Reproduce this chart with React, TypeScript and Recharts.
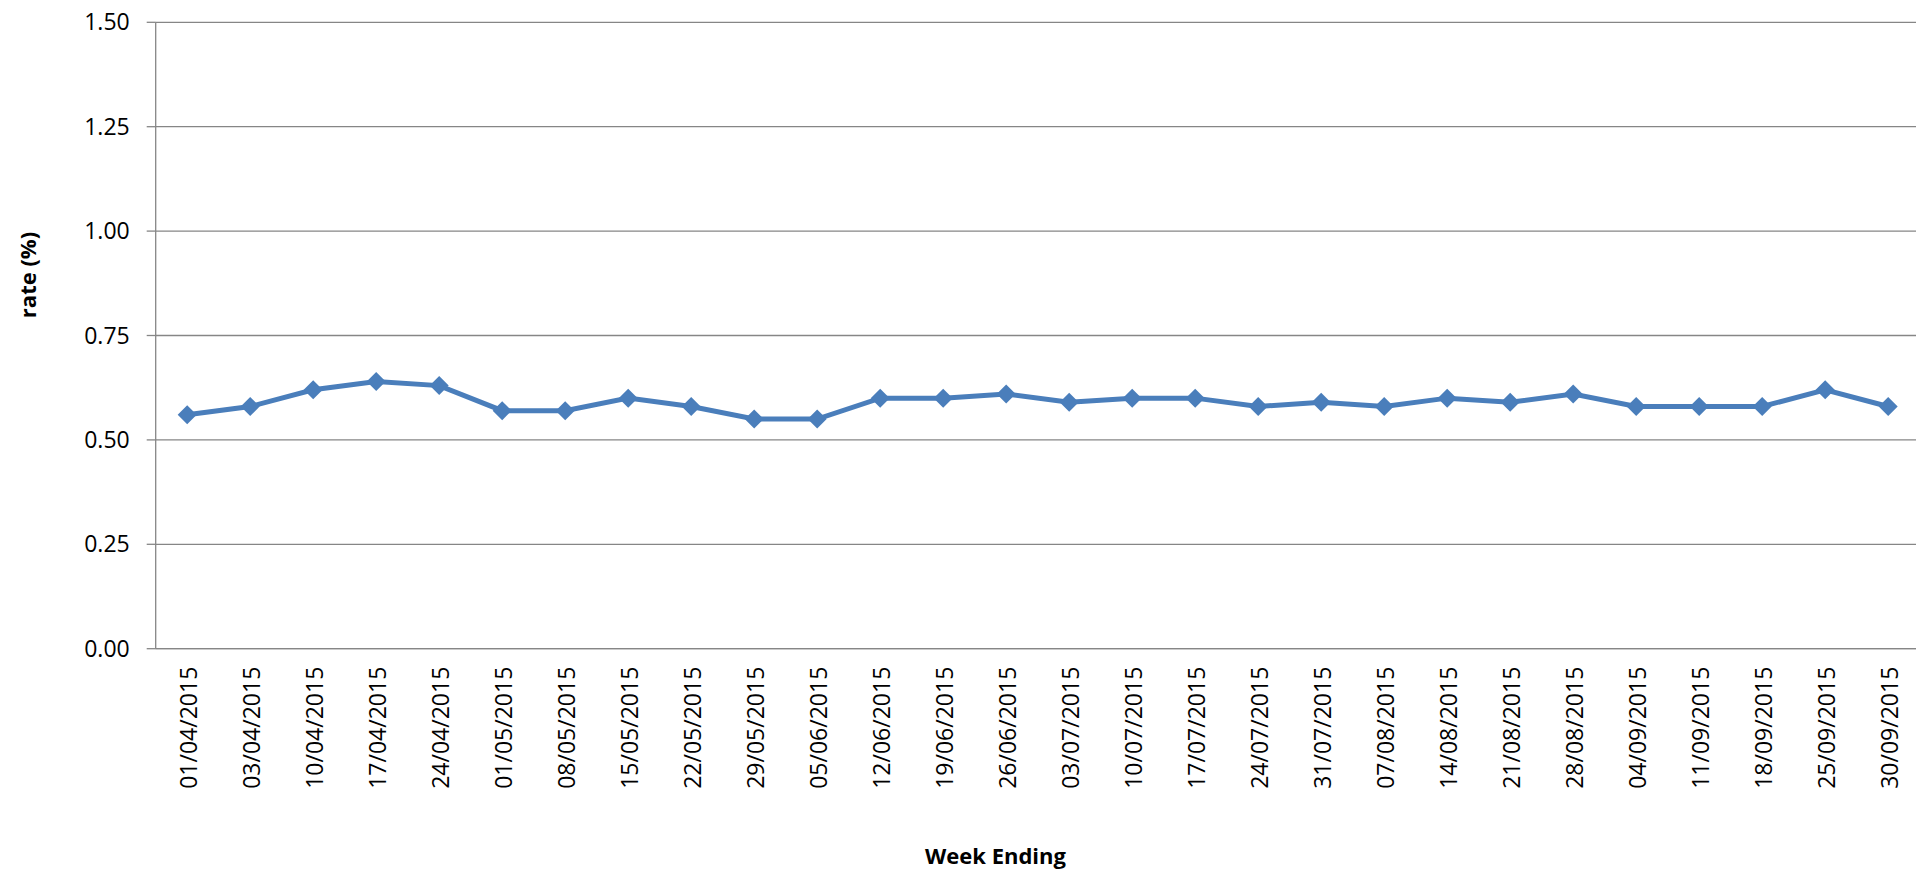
import { LineChart, Line, XAxis, YAxis, CartesianGrid } from 'recharts'

const weekEnding = [
  '01/04/2015', '03/04/2015', '10/04/2015', '17/04/2015', '24/04/2015', '01/05/2015', '08/05/2015',
  '15/05/2015', '22/05/2015', '29/05/2015', '05/06/2015', '12/06/2015', '19/06/2015', '26/06/2015',
  '03/07/2015', '10/07/2015', '17/07/2015', '24/07/2015', '31/07/2015', '07/08/2015', '14/08/2015',
  '21/08/2015', '28/08/2015', '04/09/2015', '11/09/2015', '18/09/2015', '25/09/2015', '30/09/2015',
]

const rate = [
  0.56, 0.58, 0.62, 0.64, 0.63, 0.57, 0.57,
  0.60, 0.58, 0.55, 0.55, 0.60, 0.60, 0.61,
  0.59, 0.60, 0.60, 0.58, 0.59, 0.58, 0.60,
  0.59, 0.61, 0.58, 0.58, 0.58, 0.62, 0.58,
]

const rateTicks = [0, 0.25, 0.5, 0.75, 1, 1.25, 1.5]

// each week sits in the middle of its slot, tick marks go on the slot edges
const data = weekEnding.map((week, i) => ({ pos: i + 0.5, week, rate: rate[i] }))
const edgeTicks = weekEnding.map((_, i) => i).concat(weekEnding.length)
const labelTicks = data.map((d) => d.pos)

const AXIS = '#868686'
const BLUE = '#4a7ebb'
const FONT = '"Open Sans", sans-serif'

const Diamond = (props: any) => {
  const { cx, cy } = props
  if (cx == null || cy == null) return null
  const r = 9.5
  return <polygon points={`${cx},${cy - r} ${cx + r},${cy} ${cx},${cy + r} ${cx - r},${cy}`} fill={BLUE} />
}

const WeekTick = (props: any) => {
  const { x, y, payload } = props
  const label = weekEnding[Math.floor(payload.value)]
  return (
    <text
      transform={`translate(${x + 2},${y + 17}) rotate(-90)`}
      textAnchor="end"
      dy="0.35em"
      fontSize={23}
      fontFamily={FONT}
      fill="#000"
    >
      {label}
    </text>
  )
}

export default function App() {
  return (
    <div style={{ position: 'fixed', left: 0, top: 0, width: 1916, height: 872, overflow: 'hidden', background: '#fff', fontFamily: FONT }}>
      <LineChart width={1930} height={872} data={data} margin={{ top: 22.3, right: 10.3, left: 55.7, bottom: 221.3 }}>
        <CartesianGrid vertical={false} stroke={AXIS} strokeWidth={1.3} />
        <XAxis
          xAxisId="edges"
          type="number"
          dataKey="pos"
          domain={[0, weekEnding.length]}
          ticks={edgeTicks}
          interval={0}
          tick={false}
          tickSize={9}
          height={1}
          stroke={AXIS}
          strokeWidth={1.3}
        />
        <XAxis
          xAxisId="weeks"
          type="number"
          dataKey="pos"
          domain={[0, weekEnding.length]}
          ticks={labelTicks}
          interval={0}
          tick={<WeekTick />}
          tickLine={false}
          axisLine={false}
          tickSize={0}
          tickMargin={0}
          height={1}
          label={{
            content: () => (
              <text x={995.5} y={864} textAnchor="middle" fontSize={22} fontWeight="bold" fontFamily={FONT} fill="#000">
                Week Ending
              </text>
            ),
          }}
        />
        <YAxis
          domain={[0, 1.5]}
          ticks={rateTicks}
          width={100}
          tickFormatter={(v: number) => v.toFixed(2)}
          tick={{ fontSize: 23, fill: '#000', fontFamily: FONT }}
          tickSize={9}
          tickMargin={17}
          stroke={AXIS}
          strokeWidth={1.3}
          label={{
            content: () => (
              <text
                transform="translate(28,275) rotate(-90)"
                textAnchor="middle"
                dy="0.35em"
                fontSize={22}
                fontWeight="bold"
                fontFamily={FONT}
                fill="#000"
              >
                rate (%)
              </text>
            ),
          }}
        />
        <Line
          xAxisId="weeks"
          type="linear"
          dataKey="rate"
          stroke={BLUE}
          strokeWidth={5}
          dot={<Diamond />}
          activeDot={false}
          isAnimationActive={false}
        />
      </LineChart>
    </div>
  )
}
